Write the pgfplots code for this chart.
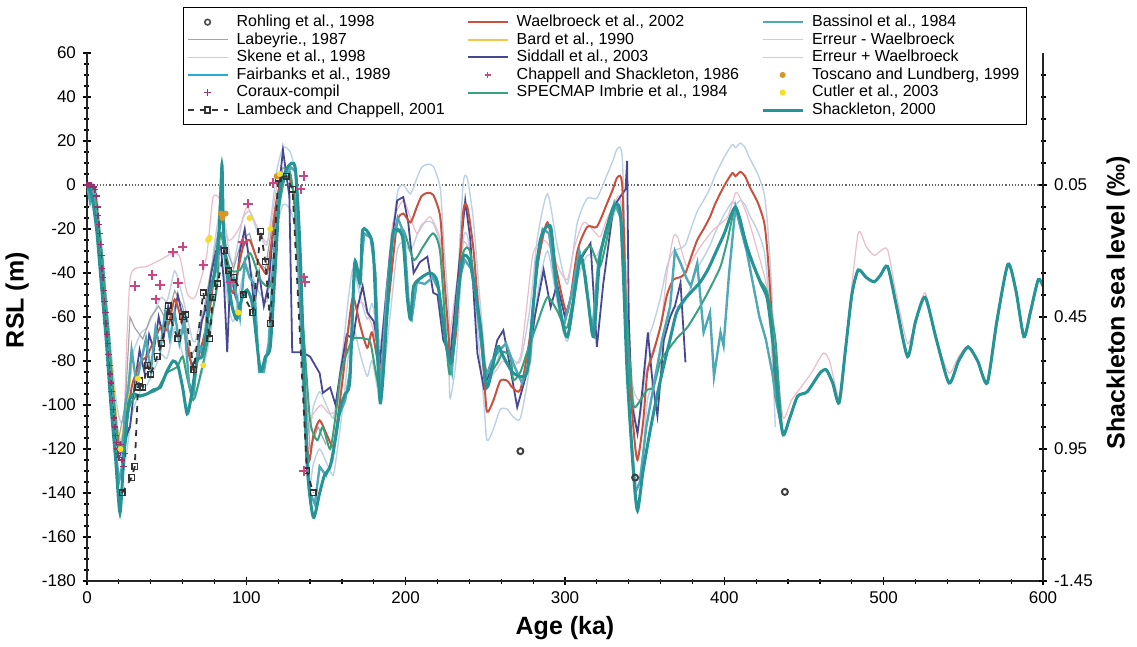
\documentclass[border=0pt]{standalone}
\usepackage{fontspec}
\setmainfont{Liberation Sans}
\usepackage{pgfplots}
\pgfplotsset{compat=1.18}
\usepackage{pgfplotstable}
\usetikzlibrary{calc}

\definecolor{wred}{RGB}{200,82,64}
\definecolor{errblue}{RGB}{188,210,228}
\definecolor{skpink}{RGB}{236,188,200}
\definecolor{labgray}{RGB}{165,165,165}
\definecolor{fbcyan}{RGB}{40,170,215}
\definecolor{bardyel}{RGB}{240,200,70}
\definecolor{sidnavy}{RGB}{72,72,145}
\definecolor{chapmag}{RGB}{200,70,130}
\definecolor{cormag}{RGB}{150,50,110}
\definecolor{specgreen}{RGB}{55,162,125}
\definecolor{bassteal}{RGB}{78,168,182}
\definecolor{shackteal}{RGB}{38,148,150}
\definecolor{toscorange}{RGB}{215,150,40}
\definecolor{cutyellow}{RGB}{245,222,40}

% Waelbroeck et al. 2002 and its error envelope
\pgfplotstableread{
x w ep em
0 0 0 0
3 -1 1 -3
6 -8 -3 -13
9 -35 -27 -43
12 -60 -50 -70
15 -85 -74 -96
18 -108 -96 -120
20 -118 -105 -131
22 -121 -108 -134
25 -108 -95 -121
28 -92 -79 -105
31 -85 -72 -98
34 -80 -67 -93
37.6 -78 -65 -91
40 -74 -61 -87
42.7 -70 -57 -83
45 -66 -53 -79
47 -64 -51 -77
50 -66 -53 -79
52 -61 -48 -74
55 -52 -39 -65
58 -58 -45 -71
62 -70 -57 -83
66 -83 -70 -96
68 -84 -71 -97
70 -78 -65 -91
73 -70 -57 -83
77 -57 -44 -70
80 -40 -27 -53
82 -30 -17 -43
83.5 -22 -9 -35
85.6 -26 -13 -39
88 -38 -25 -51
90 -46 -33 -59
92 -49 -36 -62
95 -38 -25 -51
98 -28 -15 -41
102 -25 -12 -38
106.8 -34 -21 -47
110 -38 -25 -51
113 -40 -27 -53
116 -25 -12 -38
119 -7 6 -20
123 4 17 -9
127.5 2 15 -11
130.7 -8 5 -21
133 -40 -27 -53
135.7 -80 -67 -93
139 -125 -112 -138
142 -114 -101 -127
146 -107 -94 -120
150.8 -114 -101 -127
154.5 -119 -106 -132
157 -108 -95 -121
161 -85 -72 -98
164 -65 -52 -78
167 -51 -38 -64
171.5 -64 -51 -77
175.9 -74 -61 -87
179 -67 -54 -80
184 -85 -72 -98
187 -68 -55 -81
190 -48 -35 -61
194.7 -17 -4 -30
198.5 -13 0 -26
203 -17 -4 -30
207 -10 3 -23
210 -5 8 -18
213.6 -3.6 9.4 -16.6
217.3 -4.5 8.5 -17.5
221.7 -14.5 -1.5 -27.5
224 -40 -27 -53
227 -69 -56 -82
228 -84 -71 -97
232 -64 -51 -77
236 -13 0 -26
238.7 -10 3 -23
242.5 -29 -16 -42
246 -60 -47 -73
249 -85 -72 -98
251 -103 -90 -116
255 -98 -85 -111
259.4 -89 -76 -102
263.8 -89 -76 -102
267 -92 -79 -105
272 -93 -80 -106
278 -69 -56 -82
282.7 -37 -24 -50
289 -17 -4 -30
295 -40 -27 -53
301.5 -58 -45 -71
307.8 -30 -17 -43
314 -19 -6 -32
320 -19 -6 -32
326.6 -8 5 -21
330 -2 11 -15
333 3.6 16.6 -9.4
336 -1.4 11.6 -14.4
339 -70 -57 -83
343 -111 -98 -124
345.5 -125 -112 -138
349 -108 -95 -121
351.7 -85 -72 -98
355.5 -76 -63 -89
360 -64 -51 -77
364 -50 -37 -63
368 -43 -30 -56
372 -42 -29 -55
375.6 -40 -27 -53
379 -33 -20 -46
383 -25 -12 -38
387 -20 -7 -33
391 -14.5 -1.5 -27.5
394 -9 4 -22
397.6 -3.6 9.4 -16.6
401 1 14 -12
405 5.4 18.4 -7.6
407 4 17 -9
410 6 19 -7
413 4 17 -9
416 -1 12 -14
421 -8 5 -21
425 -17 -4 -30
427 -30 -17 -43
429 -51 -38 -64
431 -80 -67 -93
432 -97 -84 -110
}\waelbroeck

\begin{document}
\begin{tikzpicture}
\pgfplotsset{
  every axis/.append style={
    scale only axis, width=478pt, height=264pt,
    xmin=0, xmax=600, ymin=-180, ymax=60,
    tick align=center, major tick length=4pt, minor tick length=2.5pt,
    every tick/.style={black, line width=0.6pt},
    axis line style={black!85, line width=0.8pt},
    tick label style={font=\fontsize{8.5}{10}\selectfont},
    /pgf/number format/assume math mode=true,
    label style={font=\bfseries\fontsize{12.5}{14}\selectfont},
  },
}
\begin{axis}[
  axis x line*=bottom, axis y line*=left,
  xtick={0,100,...,600}, minor x tick num=4,
  ytick={-180,-160,...,60}, minor y tick num=3,
  xlabel={Age (ka)}, ylabel={RSL (m)},
  xlabel style={at={(axis description cs:0.5,-0.089)}, anchor=center},
  ylabel style={at={(axis description cs:-0.073,0.532)}, anchor=center},
  legend image code/.code={\draw[mark repeat=2,mark phase=2,#1] plot coordinates {(0pt,0pt) (10pt,0pt) (20pt,0pt)};},
  legend columns=3,
  legend cell align=left,
  legend style={at={(axis description cs:0.1004,1.087)}, anchor=north west,
    draw=black, line width=0.6pt, fill=white,
    font=\fontsize{8}{8}\selectfont,
    inner xsep=1.5pt, inner ysep=3pt, row sep=0.3pt,
    nodes={inner ysep=0.6pt, inner xsep=2pt},
    /tikz/every odd column/.append style={column sep=2pt},
    /tikz/every even column/.append style={column sep=9pt}},
]
% legend, row by row (the reference reads column by column)
\addlegendimage{only marks, mark=o, mark size=1.4pt, black!70, line width=0.8pt}
\addlegendentry{Rohling et al., 1998}
\addlegendimage{wred, line width=1pt}
\addlegendentry{Waelbroeck et al., 2002}
\addlegendimage{bassteal, line width=1.2pt}
\addlegendentry{Bassinol et al., 1984}
\addlegendimage{labgray, line width=0.6pt}
\addlegendentry{Labeyrie., 1987}
\addlegendimage{bardyel, line width=1pt}
\addlegendentry{Bard et al., 1990}
\addlegendimage{errblue, line width=0.7pt}
\addlegendentry{Erreur - Waelbroeck}
\addlegendimage{skpink, line width=0.6pt}
\addlegendentry{Skene et al., 1998}
\addlegendimage{sidnavy, line width=0.9pt}
\addlegendentry{Siddall et al., 2003}
\addlegendimage{errblue, line width=0.7pt}
\addlegendentry{Erreur + Waelbroeck}
\addlegendimage{fbcyan, line width=1pt}
\addlegendentry{Fairbanks et al., 1989}
\addlegendimage{only marks, mark=+, mark size=1.6pt, chapmag, line width=0.7pt}
\addlegendentry{Chappell and Shackleton, 1986}
\addlegendimage{only marks, mark=*, mark size=1.2pt, toscorange}
\addlegendentry{Toscano and Lundberg, 1999}
\addlegendimage{only marks, mark=+, mark size=1.6pt, cormag, line width=0.7pt}
\addlegendentry{Coraux-compil}
\addlegendimage{specgreen, line width=1pt}
\addlegendentry{SPECMAP Imbrie et al., 1984}
\addlegendimage{only marks, mark=*, mark size=1.2pt, cutyellow}
\addlegendentry{Cutler et al., 2003}
\addlegendimage{black!80, dashed, line width=0.9pt, mark=square, mark size=1.4pt, mark options={solid, fill=white}}
\addlegendentry{Lambeck and Chappell, 2001}
\addlegendimage{empty legend}
\addlegendentry{}
\addlegendimage{shackteal, line width=1.5pt}
\addlegendentry{Shackleton, 2000}

% zero line
\addplot[forget plot, densely dotted, black!60, line width=0.6pt] coordinates {(0,0) (600,0)};

% Waelbroeck error envelope
\addplot[forget plot, errblue, line width=0.7pt, smooth, tension=0.4] table[x=x, y=ep] {\waelbroeck};
\addplot[forget plot, errblue, line width=0.7pt, smooth, tension=0.4] table[x=x, y=em] {\waelbroeck};

% Skene et al. 1998
\addplot[forget plot, skpink, line width=0.6pt, smooth, tension=0.4] coordinates {
(0,0) (4,-2) (8,-25) (12,-60) (16,-95) (20,-115) (23,-110) (25,-70) (27,-43) (30,-38)
(37.6,-37) (46,-34) (54,-31) (58.4,-33) (62.8,-49) (67.8,-51) (75,-32.6) (79,-6) (83.5,-7)
(88.8,-25) (96,-19) (100.5,-10) (106.8,-19) (113,-26) (117,-10) (121,5.5) (127.5,2) (131,-10)
(134,-60) (138,-110) (142,-104) (147,-100) (152,-104) (157,-101) (161,-80) (165,-63) (169,-55)
(173,-53.6) (178,-62) (184,-73.6) (188,-45) (192,-17) (198.5,-7) (203,-15) (207,-22) (211,-18)
(215.5,-14.5) (221.7,-25) (224,-50) (227,-70) (231,-50) (236,-26.5) (240,-30) (245,-47.7)
(251,-85.5) (256,-85) (261,-80) (266,-83) (272,-78) (276,-55) (280,-31) (286.6,-25) (292,-30)
(296,-38) (301.5,-43) (306,-28) (311.6,-17) (317,-20) (322,-23.6) (326,-16) (330,-10) (334,-5)
(337,-20) (340,-70) (343,-93) (347,-97.7) (350,-88) (353.6,-78) (360,-64.5) (364,-40)
(368,-23.6) (370.6,-23.6) (374,-32) (377,-37) (385,-28) (393,-20.5) (402,-14.5) (407,-3.6)
(410,-6) (414.6,-14.5) (420,-28) (427,-47.7) (433.4,-85.5) (437,-106) (442,-98) (448,-92)
(455,-85) (462,-76.5) (466,-80) (473,-97.7) (478,-60) (484,-22) (489,-28) (494,-32) (498,-30)
(502.5,-29.5) (508,-50) (515,-72) (520,-62) (526,-49) (533,-70) (541,-85.5) (547,-78)
(553,-73) (559,-80) (565,-90) (571,-65) (578,-36) (583,-50) (588,-69) (592,-60) (597,-43) (600,-46)
};

% Labeyrie 1987
\addplot[forget plot, labgray, line width=0.6pt] coordinates {
(0,0) (5,-5) (10,-40) (15,-85) (20,-115) (24,-100) (27,-60) (30,-65) (35,-70) (40,-60)
(45,-55) (50,-62) (55,-48) (60,-55) (65,-78) (70,-72) (75,-50) (80,-30) (84,-15) (88,-30)
(92,-38) (97,-25) (102,-22) (107,-35) (112,-38) (118,-10) (123,8) (128,5) (132,-15)
(136,-80) (140,-120) (145,-110) (150,-118)
};

% Bard et al. 1990
\addplot[forget plot, bardyel, line width=1pt] coordinates {
(9,-30) (12,-55) (14,-72) (17,-95) (19,-112) (21,-120) (26,-95) (28,-82)
};

% Fairbanks et al. 1989
\addplot[forget plot, fbcyan, line width=1pt] coordinates {
(0,0) (2,-2) (4,-8) (6,-15) (8,-22) (10,-35) (12,-55) (14,-70) (16,-95) (18,-115)
(20,-120) (22,-121) (24,-118) (26,-110)
};

% Siddall et al. 2003
\addplot[forget plot, sidnavy, line width=0.9pt] coordinates {
(0,0) (3,-3) (6,-15) (9,-40) (12,-65) (15,-90) (18,-110) (21,-122) (24,-115) (27,-110)
(30,-90) (33,-75) (36,-85) (39,-68) (42,-75) (45,-60) (48,-70) (51,-55) (54,-62) (57,-50)
(60,-60) (63,-75) (66,-82) (69,-78) (72,-62) (75,-55) (78,-40) (81,-30) (84,-28) (86,-45)
(88,-76) (90,-40) (93,-50) (96,-30) (99,-20) (102,-35) (105,-55) (108,-40) (111,-55)
(114,-45) (117,-20) (120,-5) (123,16) (125,5) (127,-5) (128.8,-76) (135,-76) (140,-78)
(146,-85.5) (148,-94.5) (152.6,-92) (156,-100) (159,-85) (163,-68) (167,-70) (170,-55)
(173,-46) (176,-58) (180,-62) (184,-79.5) (190,-32.6) (194.7,-7) (198.5,-5.5) (201.6,-17)
(205,-40) (209,-35) (213.6,-32.6) (217.3,-49) (220,-50) (223.6,-70.5) (228,-78) (232,-47.7)
(237.4,-7) (240.6,-25) (245,-76.5) (249,-92) (253,-85) (257.5,-70.5) (261.3,-66) (264,-76.5)
(270,-101) (276,-85.5) (281,-60) (286.6,-38.6) (291,-55.5) (295,-45) (300,-60) (305,-48)
(309.7,-34) (316,-26.5) (320,-73.6) (324,-45) (330.4,-10) (335,-5) (338,-2) (339,11)
(340,-60) (342,-100) (345.5,-113) (347.5,-101) (352,-67) (355,-90) (358,-105) (362,-70.5)
(366,-60) (369,-55) (372.5,-44.5) (375.6,-80.6)
};

% Waelbroeck et al. 2002
\addplot[forget plot, wred, line width=1pt, smooth, tension=0.4] table[x=x, y=w] {\waelbroeck};

% SPECMAP Imbrie et al. 1984
\addplot[forget plot, specgreen, line width=1pt, smooth, tension=0.4] coordinates {
(0,0) (4,-2) (8,-22) (12,-55) (16,-90) (19,-115) (21,-120) (24,-110) (27,-100) (31,-96)
(37,-95) (44,-93) (50,-85.5) (56.5,-82.7) (60,-78) (63,-88) (66.6,-97.7) (70,-90) (75,-73.6)
(78,-60) (81.6,-46) (83.5,-22) (86,-28) (90,-38.6) (96,-38.6) (102.4,-31) (108.7,-43)
(115,-46) (118,-30) (121,-8) (126,8) (129.5,-3.6) (132,-30) (135.7,-64.5) (140,-107)
(144.5,-116) (148,-110) (152.6,-120) (156,-105) (159,-87) (163,-76.5) (167,-70) (171.5,-69.5)
(175,-70) (178,-72) (184,-93) (188,-60) (192,-25) (198.5,-20.5) (205,-34) (211,-28)
(217.3,-22) (221.7,-31) (226,-76.5) (228,-85.5) (232,-55) (236,-31) (240.6,-31) (247,-70)
(251,-85.5) (257.5,-81) (261,-76) (265.7,-78) (267.6,-88.6) (272,-85) (276,-76.5)
(282.7,-62.7) (289,-51) (295,-57) (301.5,-64.5) (309.7,-34) (316,-28) (322,-37) (328.5,-17)
(331.7,-10) (335,-14) (338,-50) (342,-94.5) (344,-101) (351.7,-93) (355.5,-92) (360,-80)
(366,-73.6) (371,-69) (377,-64.5) (385,-55) (391,-47) (397.6,-37) (402,-25) (407,-10)
(412,-22) (418,-35.6) (423,-44) (427,-49) (432,-70) (435,-100) (437,-113.6) (441,-106)
(446,-96) (452,-94) (460,-85.5) (464,-84) (468,-90) (472,-99) (476,-75) (480,-50) (484,-38.6)
(489,-42) (494,-44) (498,-41) (502.5,-37) (508,-55) (515,-78) (520,-62) (526,-51) (533,-70)
(541,-90) (547,-80) (553,-73.6) (559,-80) (565,-90) (571,-62) (578,-36) (583,-48) (588,-69)
(592,-58) (597,-43) (600,-46)
};

% Bassinol et al. 1984
\addplot[forget plot, bassteal, line width=1.2pt] coordinates {
(0,0) (2,-8) (4,-3) (7,-25) (10,-50) (13,-75) (16,-100) (18,-120) (20,-135) (22,-128)
(24,-100) (26,-92) (28,-75) (31,-90) (34,-80) (37,-70) (40,-85) (43,-65) (46,-75) (49,-58)
(52,-70) (55,-58) (58,-72) (61,-62) (64,-90) (67,-95) (70,-72) (73,-78) (76,-52) (79,-45)
(82,-35) (84.7,10) (86,-30) (89,-50) (92,-42) (96,-60) (99,-35) (102,-42) (105,-45) (108,-85)
(111,-85) (114,-72) (117,-35) (120,-5) (124,4) (128,8) (131,6) (134,-60) (137,-110) (140,-140)
(143,-145) (146,-128) (150,-132) (154,-125) (158,-105) (162,-98) (165,-85) (168,-38) (171,-45)
(174,-22) (178,-24) (181,-40) (184,-97) (188,-50) (191,-28) (195,-15) (199,-22) (202,-55)
(204,-60) (207,-44) (212,-45) (217,-42) (221,-48) (225,-72) (229,-85) (233,-45) (237,-34)
(241,-38) (245,-55) (250,-88) (254,-80) (259,-75) (263,-72) (268,-82) (273,-90) (278,-80)
(282,-35) (286,-20) (290,-22) (294,-45) (299,-65) (304,-50) (309,-30) (313,-42) (317,-68)
(321,-34) (326,-20) (331,-8) (335,-15) (338,-60) (341,-110) (344,-140) (347,-135) (351,-110)
(356,-90) (361,-70) (366,-55) (369,-30) (372.5,-35.5) (376,-42) (379,-46) (383,-35.5)
(387,-67) (391,-58) (393.5,-87) (397.6,-67) (399.5,-73) (403,-40) (407,-10) (410,-19)
(414,-30) (418,-45) (422,-60) (426,-70) (430,-85) (433,-100) (436,-110)
};

% Shackleton 2000
\addplot[forget plot, shackteal, line width=1.5pt, smooth, tension=0.4] coordinates {
(0,0) (3,-5) (6,-20) (9,-45) (12,-70) (15,-100) (18,-125) (20.7,-149) (23,-125) (26,-100)
(29,-95) (33,-96) (37.6,-95) (42,-93) (46,-92) (50,-85) (54,-80) (57,-82) (60,-92)
(62.8,-104) (65,-98) (69,-80) (72,-78) (75,-67) (77,-49) (80,-40) (83,-20) (84.7,9)
(85.6,-19) (88,-40) (91,-55) (94,-61) (97,-52) (100.5,-47.7) (104,-55) (108.7,-84) (112,-78)
(115,-73.6) (118,-40) (121,-3.6) (125.6,7.7) (130.7,7.7) (134,-34) (138,-125) (142,-151)
(146,-140) (149,-132) (152.6,-128) (156,-115) (159,-101) (162,-95) (165,-88.6) (168,-35.5)
(171.5,-44.5) (173,-20.5) (178,-23.6) (180,-34) (184,-99) (188.6,-55.5) (192,-21.8)
(198,-23.6) (201,-51) (203,-61) (205,-46) (210,-42) (215.5,-40) (220,-44.5) (226,-75)
(229,-80) (233,-50) (236,-32.6) (240.6,-35.5) (247,-64.5) (251,-92) (257.5,-73.6)
(261.3,-78) (267.6,-85.5) (276,-85.5) (280,-55) (284.5,-25) (291,-19) (295,-47.7)
(301.5,-69) (309.7,-32.6) (314,-50) (318,-69) (322,-32.6) (330.4,-10) (335,-15) (339,-85.5)
(343,-131) (345.5,-148) (349,-130) (353.6,-111) (358,-95) (362,-82) (366,-70) (370,-58)
(375,-52) (380,-48) (385,-44) (390,-38) (395,-30) (400,-22) (404,-14) (407,-10) (410,-16)
(414,-28) (418,-36) (423,-45) (427,-52) (431,-75) (434,-100) (437,-113.6) (441,-106)
(446,-96) (452,-94) (460,-85.5) (464,-84) (468,-90) (472,-99) (476,-75) (480,-50)
(484,-38.6) (489,-42) (494,-44) (498,-41) (502.5,-37) (508,-55) (515,-78) (520,-62)
(526,-51) (533,-70) (541,-90) (547,-80) (553,-73.6) (559,-80) (565,-90) (571,-62) (578,-36)
(583,-48) (588,-69) (592,-58) (597,-43) (600,-46)
};

% Lambeck and Chappell 2001
\addplot[forget plot, black!80, dashed, line width=0.9pt, mark=square, mark size=1.4pt,
  mark options={solid, fill=white, line width=0.7pt}] coordinates {
(22,-140) (28,-133) (30,-128) (32,-92) (33,-89) (35,-92) (38,-82) (40,-86) (44,-78) (47,-72)
(51,-55) (52,-60) (57,-70) (60,-60) (62,-59) (67,-84) (73,-49) (77,-70) (79,-51) (82,-45)
(86,-30) (89,-39) (92,-42) (98,-50) (104,-58) (109,-21) (112,-35) (115,-63) (120,3) (125,4)
(129,-2) (138,-130) (142,-140)
};

% Coraux-compil
\addplot[forget plot, only marks, mark=+, mark size=1.6pt, cormag, line width=0.7pt] coordinates {
(0,0) (1,0) (2,0) (3,0) (4,-1) (5,-2) (6,-5) (6.5,-10) (7,-14) (7.5,-18) (8,-22) (8.5,-27)
(9,-32) (9.5,-38) (10,-42) (10.5,-48) (11,-53) (11.5,-58) (12,-63) (12.5,-68) (13,-72)
(13.5,-77) (14,-82) (14.5,-86) (15,-90) (15.5,-94) (16,-98) (16.5,-102) (17,-106) (17.5,-110)
(18,-114) (18.5,-117) (19,-120) (19.5,-122) (20,-124) (21,-118) (22,-125) (23,-128) (24,-122)
};

% Chappell and Shackleton 1986
\addplot[forget plot, only marks, mark=+, mark size=2.4pt, chapmag, line width=1pt] coordinates {
(30,-46) (41,-41) (43,-52) (46,-45.5) (54,-30.6) (57,-44.5) (60,-28) (73,-36.5) (90,-44)
(98,-26) (101,-8.5) (117,1) (134,-2) (136,4) (136,-42) (137,-44) (136,-130)
};

% Toscano and Lundberg 1999
\addplot[forget plot, only marks, mark=*, mark size=1.3pt, toscorange] coordinates {
(84,-13) (87,-13) (85,-15) (119,4)
};

% Cutler et al. 2003
\addplot[forget plot, only marks, mark=*, mark size=1.3pt, cutyellow] coordinates {
(21,-120) (32,-88) (73,-82) (76,-25) (77,-24) (95,-58) (102,-15) (115,-20) (121,5)
};

% Rohling et al. 1998
\addplot[forget plot, only marks, mark=o, mark size=1.5pt, black!75, line width=1pt] coordinates {
(272,-121) (344,-133) (438,-139.5)
};
\end{axis}

% right-hand scale
\begin{axis}[
  axis x line=none, axis y line*=right,
  ytick={0,-60,-120,-180}, yticklabels={0.05,0.45,0.95,-1.45},
  minor ytick={50,40,30,20,10,-10,-20,-30,-40,-50,-70,-80,-90,-100,-110,-130,-140,-150,-160,-170},
  ylabel={Shackleton sea level (‰)},
  ylabel style={at={(axis description cs:1.0785,0.527)}, anchor=center, rotate=0},
]
\addplot[draw=none, forget plot] coordinates {(0,0) (600,0)};
\end{axis}

\pgfresetboundingbox
\path[use as bounding box] ($(current axis.south west)+(-43.5pt,-32.5pt)$) rectangle ($(current axis.north east)+(47pt,26.5pt)$);
\end{tikzpicture}
\end{document}
